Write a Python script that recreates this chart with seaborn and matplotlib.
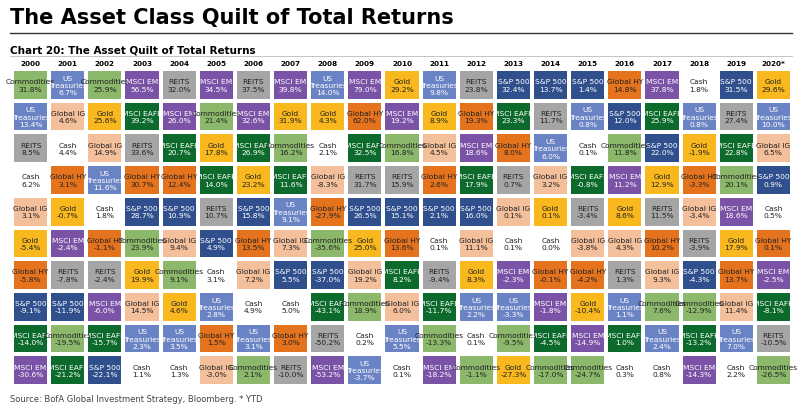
import numpy as np
import seaborn as sns
import matplotlib.pyplot as plt
from matplotlib.colors import ListedColormap

years = ["2000", "2001", "2002", "2003", "2004", "2005", "2006", "2007", "2008", "2009", "2010",
         "2011", "2012", "2013", "2014", "2015", "2016", "2017", "2018", "2019", "2020*"]

assets = ["Commodities", "US Treasuries", "REITS", "Cash", "Global IG",
          "Gold", "Global HY", "S&P 500", "MSCI EAFE", "MSCI EM"]

# ranked asset names per year, best to worst
ranked = [
    ["Commodities", "US Treasuries", "REITS", "Cash", "Global IG", "Gold", "Global HY", "S&P 500", "MSCI EAFE", "MSCI EM"],
    ["US Treasuries", "Global IG", "Cash", "Global HY", "Gold", "MSCI EM", "REITS", "S&P 500", "Commodities", "MSCI EAFE"],
    ["Commodities", "Gold", "Global IG", "US Treasuries", "Cash", "Global HY", "REITS", "MSCI EM", "MSCI EAFE", "S&P 500"],
    ["MSCI EM", "MSCI EAFE", "REITS", "Global HY", "S&P 500", "Commodities", "Gold", "Global IG", "US Treasuries", "Cash"],
    ["REITS", "MSCI EM", "MSCI EAFE", "Global HY", "S&P 500", "Global IG", "Commodities", "Gold", "US Treasuries", "Cash"],
    ["MSCI EM", "Commodities", "Gold", "MSCI EAFE", "REITS", "S&P 500", "Cash", "US Treasuries", "Global HY", "Global IG"],
    ["REITS", "MSCI EM", "MSCI EAFE", "Gold", "S&P 500", "Global HY", "Global IG", "Cash", "US Treasuries", "Commodities"],
    ["MSCI EM", "Gold", "Commodities", "MSCI EAFE", "US Treasuries", "Global IG", "S&P 500", "Cash", "Global HY", "REITS"],
    ["US Treasuries", "Gold", "Cash", "Global IG", "Global HY", "Commodities", "S&P 500", "MSCI EAFE", "REITS", "MSCI EM"],
    ["MSCI EM", "Global HY", "MSCI EAFE", "REITS", "S&P 500", "Gold", "Global IG", "Commodities", "Cash", "US Treasuries"],
    ["Gold", "MSCI EM", "Commodities", "REITS", "S&P 500", "Global HY", "MSCI EAFE", "Global IG", "US Treasuries", "Cash"],
    ["US Treasuries", "Gold", "Global IG", "Global HY", "S&P 500", "Cash", "REITS", "MSCI EAFE", "Commodities", "MSCI EM"],
    ["REITS", "Global HY", "MSCI EM", "MSCI EAFE", "S&P 500", "Global IG", "Gold", "US Treasuries", "Cash", "Commodities"],
    ["S&P 500", "MSCI EAFE", "Global HY", "REITS", "Global IG", "Cash", "MSCI EM", "US Treasuries", "Commodities", "Gold"],
    ["S&P 500", "REITS", "US Treasuries", "Global IG", "Gold", "Cash", "Global HY", "MSCI EM", "MSCI EAFE", "Commodities"],
    ["S&P 500", "US Treasuries", "Cash", "MSCI EAFE", "REITS", "Global IG", "Global HY", "Gold", "MSCI EM", "Commodities"],
    ["Global HY", "S&P 500", "Commodities", "MSCI EM", "Gold", "Global IG", "REITS", "US Treasuries", "MSCI EAFE", "Cash"],
    ["MSCI EM", "MSCI EAFE", "S&P 500", "Gold", "REITS", "Global HY", "Global IG", "Commodities", "US Treasuries", "Cash"],
    ["Cash", "US Treasuries", "Gold", "Global HY", "Global IG", "REITS", "S&P 500", "Commodities", "MSCI EAFE", "MSCI EM"],
    ["S&P 500", "REITS", "MSCI EAFE", "Commodities", "MSCI EM", "Gold", "Global HY", "Global IG", "US Treasuries", "Cash"],
    ["Gold", "US Treasuries", "Global IG", "S&P 500", "Cash", "Global HY", "MSCI EM", "MSCI EAFE", "REITS", "Commodities"],
]

returns = [
    [31.8, 13.4, 8.5, 6.2, 3.1, -5.4, -5.8, -9.1, -14.0, -30.6],
    [6.7, 4.6, 4.4, 3.1, -0.7, -2.4, -7.8, -11.9, -19.5, -21.2],
    [25.9, 25.6, 14.9, 11.6, 1.8, -1.1, -2.4, -6.0, -15.7, -22.1],
    [56.5, 39.2, 33.6, 30.7, 28.7, 23.9, 19.9, 14.5, 2.3, 1.1],
    [32.0, 26.0, 20.7, 12.4, 10.9, 9.4, 9.1, 4.6, 3.5, 1.3],
    [34.5, 21.4, 17.8, 14.0, 10.7, 4.9, 3.1, 2.8, 1.5, -3.0],
    [37.5, 32.6, 26.9, 23.2, 15.8, 13.5, 7.2, 4.9, 3.1, 2.1],
    [39.8, 31.9, 16.2, 11.6, 9.1, 7.3, 5.5, 5.0, 3.0, -10.0],
    [14.0, 4.3, 2.1, -8.3, -27.9, -35.6, -37.0, -43.1, -50.2, -53.2],
    [79.0, 62.0, 32.5, 31.7, 26.5, 25.0, 19.2, 18.9, 0.2, -3.7],
    [29.2, 19.2, 16.8, 15.9, 15.1, 13.6, 8.2, 6.0, 5.5, 0.1],
    [9.8, 8.9, 4.5, 2.6, 2.1, 0.1, -9.4, -11.7, -13.3, -18.2],
    [23.8, 19.3, 18.6, 17.9, 16.0, 11.1, 8.3, 2.2, 0.1, -1.1],
    [32.4, 23.3, 8.0, 0.7, 0.1, 0.1, -2.3, -3.3, -9.5, -27.3],
    [13.7, 11.7, 6.0, 3.2, 0.1, 0.0, -0.1, -1.8, -4.5, -17.0],
    [1.4, 0.8, 0.1, -0.8, -3.4, -3.8, -4.2, -10.4, -14.9, -24.7],
    [14.8, 12.0, 11.8, 11.2, 8.6, 4.3, 1.3, 1.1, 1.0, 0.3],
    [37.8, 25.9, 22.0, 12.9, 11.5, 10.2, 9.3, 7.6, 2.4, 0.8],
    [1.8, 0.8, -1.9, -3.3, -3.4, -3.9, -4.3, -12.9, -13.2, -14.3],
    [31.5, 27.4, 22.8, 20.1, 18.6, 17.9, 13.7, 11.4, 7.0, 2.2],
    [29.6, 10.0, 6.5, 0.9, 0.5, 0.1, -2.5, -8.1, -10.5, -26.5],
]

colors = ["#8cb86b", "#6a83c4", "#a5a5a5", "#ffffff", "#f4bf9b",
          "#f9b81d", "#e5731e", "#2f4f8d", "#0d6a2d", "#7a53a6"]
light_text = {"US Treasuries", "S&P 500", "MSCI EAFE", "MSCI EM"}

codes = np.array([[assets.index(a) for a in col] for col in ranked]).T
labels = np.empty(codes.shape, dtype=object)
for j, col in enumerate(ranked):
    for i, a in enumerate(col):
        name = "US\nTreasuries" if a == "US Treasuries" else a
        labels[i, j] = f"{name}\n{returns[j][i]:.1f}%"

narrow = ["Liberation Sans Narrow", "DejaVu Sans"]

fig = plt.figure(figsize=(8, 4.1), dpi=100)
ax = fig.add_axes([0.015, 0.056, 0.975, 0.773])
sns.heatmap(codes, ax=ax, cmap=ListedColormap(colors), vmin=-0.5, vmax=9.5,
            annot=labels, fmt="", cbar=False, linewidths=1.5, linecolor="white",
            annot_kws={"fontsize": 5.4, "linespacing": 1.25, "family": narrow},
            xticklabels=years, yticklabels=False)
for t, code in zip(ax.texts, codes.flatten()):
    t.set_color("white" if assets[code] in light_text else "#222222")

ax.xaxis.tick_top()
ax.tick_params(axis="x", length=0, pad=2, labelsize=5.2)
for lbl in ax.get_xticklabels():
    lbl.set_fontweight("bold")

fig.text(0.012, 0.955, "The Asset Class Quilt of Total Returns", fontsize=15,
         fontweight="bold", va="center", ha="left")
fig.add_artist(plt.Line2D([0.012, 0.99], [0.918, 0.918], color="#333333", lw=1))
fig.text(0.012, 0.878, "Chart 20: The Asset Quilt of Total Returns", fontsize=7.5,
         fontweight="bold", va="center", ha="left", family=narrow)
fig.add_artist(plt.Line2D([0.012, 0.99], [0.86, 0.86], color="#bbbbbb", lw=0.6))
fig.text(0.012, 0.025, "Source: BofA Global Investment Strategy, Bloomberg. * YTD",
         fontsize=6, color="#444444", va="center", ha="left", family=narrow)

fig.savefig("out.png", dpi=100)
